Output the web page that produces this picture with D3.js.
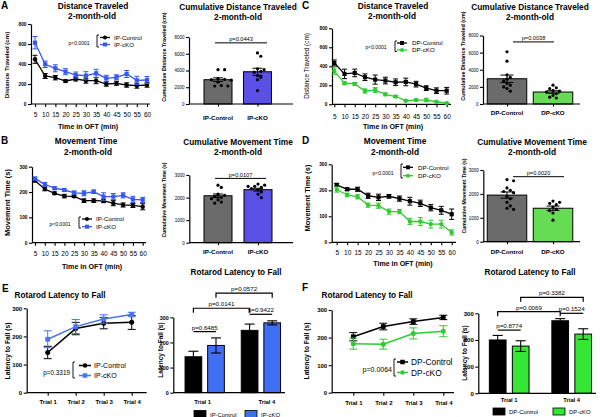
<!DOCTYPE html>
<html><head><meta charset="utf-8">
<script src="https://cdn.jsdelivr.net/npm/d3@7"></script>
<style>
body{margin:0;background:#fff;}
svg{display:block;}
</style></head><body>
<svg id="c" width="600" height="417"></svg>
<script>
// ---------------- DATA ----------------
const timePoints = [5,10,15,20,25,30,35,40,45,50,55,60];
const trials = ["Trial 1","Trial 2","Trial 3","Trial 4"];
const barTrials = ["Trial 1","Trial 4"];
const ipGroups = ["IP-Control","IP-cKO"];
const dpGroups = ["DP-Control","DP-cKO"];

// A – distance traveled per 5 min (IP)
const distIPControl    = [447,280,263,230,250,233,233,200,207,190,183,190];
const distIPControlErr = [40,25,22,12,20,25,30,22,20,22,25,22];
const distIPcKO        = [613,397,357,323,290,283,307,257,267,300,237,240];
const distIPcKOErr     = [62,32,35,30,30,40,40,30,25,35,40,35];
// C – distance traveled per 5 min (DP)
const distDPControl    = [435,320,330,285,260,250,232,235,212,170,143,143];
const distDPControlErr = [32,50,40,35,48,35,35,40,30,25,30,35];
const distDPcKO        = [350,222,215,140,150,105,82,38,45,45,27,12];
const distDPcKOErr     = [35,15,15,22,25,15,10,5,10,18,6,5];
// B – movement time (IP)
const moveIPControl    = [245,212,195,184,183,166,166,165,156,149,147,142];
const moveIPControlErr = [5,7,5,7,5,7,7,7,10,8,8,12];
const moveIPcKO        = [253,230,215,208,197,195,201,182,182,187,171,169];
const moveIPcKOErr     = [6,7,5,5,7,10,7,15,12,10,12,10];
// D – movement time (DP)
const moveDPControl    = [221,204,204,179,173,177,168,158,150,133,123,108];
const moveDPControlErr = [5,5,8,10,12,7,10,15,12,12,15,20];
const moveDPcKO        = [203,182,175,143,141,118,118,80,80,70,70,38];
const moveDPcKOErr     = [10,7,8,8,10,10,8,12,15,15,15,10];

// cumulative bars
const cumDistIPMean = [2900,3850];
const cumDistIPErr  = [220,420];
const cumDistIPControlPts = [4100,4100,3050,2950,2900,2850,2600,2200,2150,2150];
const cumDistIPcKOPts     = [6100,5700,4200,4100,3900,3800,3400,3200,2900,1600];
const cumDistDPMean = [2950,1400];
const cumDistDPErr  = [430,150];
const cumDistDPControlPts = [6100,5000,3400,3100,2900,2700,2400,2200,2000,1800,1500];
const cumDistDPcKOPts     = [2200,1900,1800,1600,1500,1400,1200,1000,800,700];
const cumMoveIPMean = [2080,2350];
const cumMoveIPErr  = [80,60];
const cumMoveIPControlPts = [2550,2450,2150,2100,2050,2000,1950,1900,1800,1750];
const cumMoveIPcKOPts     = [2600,2550,2500,2500,2450,2400,2350,2250,2150,2000];
const cumMoveDPMean = [1950,1400];
const cumMoveDPErr  = [130,90];
const cumMoveDPControlPts = [2600,2550,2250,2150,2100,2050,1900,1800,1650,1500,1400,1350];
const cumMoveDPcKOPts     = [1700,1650,1600,1550,1450,1350,1300,1200,900];

// rotarod lines
const rotIPControl    = [143,228,247,250];
const rotIPControlErr = [22,22,20,25];
const rotIPcKO        = [190,235,262,278];
const rotIPcKOErr     = [30,25,15,8];
const rotDPControl    = [203,240,258,273];
const rotDPControlErr = [15,12,10,8];
const rotDPcKO        = [178,176,215,223];
const rotDPcKOErr     = [20,18,20,20];
// rotarod bars (Trial 1, Trial 4)
const rotBarIPControl    = [143,248];
const rotBarIPControlErr = [22,25];
const rotBarIPcKO        = [188,278];
const rotBarIPcKOErr     = [30,8];
const rotBarDPControl    = [200,272];
const rotBarDPControlErr = [17,8];
const rotBarDPcKO        = [177,222];
const rotBarDPcKOErr     = [20,20];

// ---------------- DRAWING ----------------
const FONT = "'Liberation Sans', Arial, Helvetica, sans-serif";
const COL = {black:"#000", blue:"#3657f0", blueE:"#4775f0", green:"#2fcc2f",
             gray:"#6b6b6b", purple:"#5b50e6", lgreen:"#66dc55", fblue:"#3f6ff2", fgreen:"#35e635"};
const svg = d3.select("#c").attr("font-family", FONT);
const fmt = d3.format("d");

function label(x, y, s, o={}) {
  const t = svg.append("text").attr("x",x).attr("y",y).text(s)
    .attr("font-size",o.size||8).attr("font-weight",o.bold?"bold":"normal")
    .attr("text-anchor",o.anchor||"middle").attr("fill",o.fill||"#000");
  if (o.rotate) t.attr("transform",`rotate(-90,${x},${y})`).attr("dy","0.35em");
  return t;
}
function styleAxis(a, size, bold) {
  a.attr("font-family", FONT);
  a.selectAll("path.domain").attr("stroke","#000").attr("stroke-width",1.2);
  a.selectAll(".tick line").attr("stroke","#000").attr("stroke-width",1.1);
  a.selectAll(".tick text").attr("font-size",size).attr("font-weight",bold?"bold":"normal").attr("fill","#000");
}
function marker(g, shape, cx, cy, color, sz) {
  if (shape==="circle") g.append("circle").attr("cx",cx).attr("cy",cy).attr("r",sz/2).attr("fill",color);
  else g.append("rect").attr("x",cx-sz/2).attr("y",cy-sz/2).attr("width",sz).attr("height",sz).attr("fill",color);
}

function lineChart(c) {
  const g = svg.append("g");
  const y = d3.scaleLinear().domain(c.yDomain).range(c.yRange);
  const x = c.x;
  const ya = g.append("g").attr("transform",`translate(${c.ax},0)`)
    .call(d3.axisLeft(y).tickValues(c.yTicks).tickFormat(fmt).tickSize(3).tickSizeOuter(0).tickPadding(1.5));
  styleAxis(ya, c.yFont, true);
  const xa = g.append("g").attr("transform",`translate(0,${y(0)})`)
    .call(d3.axisBottom(x).tickValues(c.xTicks).tickSize(3).tickSizeOuter(0).tickPadding(c.xPad));
  xa.select(".domain").remove();
  styleAxis(xa, c.xFont, c.xBold);
  g.append("line").attr("x1",c.ax).attr("x2",c.xEnd).attr("y1",y(0)).attr("y2",y(0))
    .attr("stroke","#000").attr("stroke-width",1.2);
  c.series.forEach(s => {
    const pts = c.xTicks.map((t,i)=>({x:x(t), v:s.vals[i], e:s.errs[i]}));
    const eg = g.append("g").attr("stroke",s.color).attr("stroke-width",1);
    pts.forEach(p => {
      eg.append("line").attr("x1",p.x).attr("x2",p.x).attr("y1",y(p.v-p.e)).attr("y2",y(p.v+p.e));
      [p.v-p.e,p.v+p.e].forEach(v=>eg.append("line").attr("x1",p.x-c.cap/2).attr("x2",p.x+c.cap/2).attr("y1",y(v)).attr("y2",y(v)));
    });
    g.append("path").datum(pts).attr("d",d3.line().x(d=>d.x).y(d=>y(d.v)))
      .attr("fill","none").attr("stroke",s.color).attr("stroke-width",c.lw);
    pts.forEach(p => marker(g, s.shape, p.x, y(p.v), s.color, s.shape==="circle"?c.ms:c.ms*0.95));
  });
  const L = c.legend;
  g.append("path").attr("d",`M${L.bx+2},${L.y1}H${L.bx}V${L.y2}H${L.bx+2}`)
    .attr("fill","none").attr("stroke","#000").attr("stroke-width",0.9);
  c.series.forEach((s,i) => {
    g.append("line").attr("x1",L.lx1).attr("x2",L.lx2).attr("y1",L.ys[i]).attr("y2",L.ys[i])
      .attr("stroke",s.color).attr("stroke-width",c.lw);
    marker(g, s.shape, (L.lx1+L.lx2)/2, L.ys[i], s.color, c.ms*0.9);
    label(L.tx, L.ys[i]+L.font*0.36, L.labels[i], {size:L.font, anchor:"start"});
  });
  label(L.px, L.py+L.pfont*0.36, L.p, {size:L.pfont, anchor:L.panchor});
}

function swarm(vals, cx, y, r, step) {
  const placed = [];
  vals.map(v=>({v, py:y(v)})).sort((a,b)=>a.py-b.py).forEach(p => {
    for (let k=0;k<60;k++) {
      const off = (k%2===1?1:-1)*Math.ceil(k/2)*step;
      const px = cx+off;
      if (placed.every(q=>Math.hypot(q.px-px,q.py-p.py)>=2*r+0.5)) { p.px=px; placed.push(p); break; }
    }
  });
  return placed;
}

function dotBar(c) {
  const g = svg.append("g");
  const y = d3.scaleLinear().domain(c.yDomain).range(c.yRange);
  const x = d3.scalePoint().domain(c.cats).range(c.xCenters);
  c.cats.forEach((cat,i) => {
    const cx = x(cat);
    g.append("rect").attr("x",cx-c.barW/2).attr("y",y(c.means[i])).attr("width",c.barW)
      .attr("height",y(0)-y(c.means[i])).attr("fill",c.fills[i]).attr("stroke","#000").attr("stroke-width",1);
    const lo=c.means[i]-c.errs[i], hi=c.means[i]+c.errs[i];
    const eg = g.append("g").attr("stroke","#000").attr("stroke-width",1);
    eg.append("line").attr("x1",cx).attr("x2",cx).attr("y1",y(lo)).attr("y2",y(hi));
    [lo,hi].forEach(v=>eg.append("line").attr("x1",cx-c.cap/2).attr("x2",cx+c.cap/2).attr("y1",y(v)).attr("y2",y(v)));
    swarm(c.points[i], cx, y, 1.6, 3.3).forEach(p =>
      g.append("circle").attr("cx",p.px).attr("cy",p.py).attr("r",1.6).attr("fill","#000"));
  });
  const ya = g.append("g").attr("transform",`translate(${c.ax},0)`)
    .call(d3.axisLeft(y).tickValues(c.yTicks).tickFormat(fmt).tickSize(3).tickSizeOuter(0).tickPadding(1.5));
  styleAxis(ya, c.yFont, false);
  const xa = g.append("g").attr("transform",`translate(0,${y(0)})`)
    .call(d3.axisBottom(x).tickSize(2.5).tickSizeOuter(0).tickFormat(""));
  xa.select(".domain").remove();
  styleAxis(xa, 6, true);
  g.append("line").attr("x1",c.ax).attr("x2",c.xEnd).attr("y1",y(0)).attr("y2",y(0))
    .attr("stroke","#000").attr("stroke-width",1.2);
  c.cats.forEach(cat => label(x(cat), c.catY, cat, {size:6.2, bold:true}));
  const py = y(c.pLevel), x1 = x(c.cats[0])+c.pdx[0], x2 = x(c.cats[1])+c.pdx[1];
  g.append("line").attr("x1",x1).attr("x2",x2).attr("y1",py).attr("y2",py).attr("stroke","#000").attr("stroke-width",1);
  label((x1+x2)/2, py-1.5, c.p, {size:5.6});
}

function groupBar(c) {
  const g = svg.append("g");
  const y = d3.scaleLinear().domain(c.yDomain).range(c.yRange);
  const gx = d3.scalePoint().domain(c.groups).range(c.groupCenters);
  const cxOf = (si,gi) => gx(c.groups[gi]) + c.offsets[si];
  c.series.forEach((s,si) => c.groups.forEach((gn,gi) => {
    const cx = cxOf(si,gi), v=s.vals[gi], e=s.errs[gi];
    g.append("rect").attr("x",cx-c.barW/2).attr("y",y(v)).attr("width",c.barW).attr("height",y(0)-y(v))
      .attr("fill",s.fill).attr("stroke","#000").attr("stroke-width",1);
    const eg = g.append("g").attr("stroke","#000").attr("stroke-width",1.1);
    eg.append("line").attr("x1",cx).attr("x2",cx).attr("y1",y(v-e)).attr("y2",y(v+e));
    [v-e,v+e].forEach(w=>eg.append("line").attr("x1",cx-c.cap/2).attr("x2",cx+c.cap/2).attr("y1",y(w)).attr("y2",y(w)));
  }));
  const ya = g.append("g").attr("transform",`translate(${c.ax},0)`)
    .call(d3.axisLeft(y).tickValues(c.yTicks).tickFormat(fmt).tickSize(3).tickSizeOuter(0).tickPadding(1.5));
  styleAxis(ya, c.yFont, true);
  g.append("line").attr("x1",c.ax).attr("x2",c.xEnd).attr("y1",y(0)).attr("y2",y(0))
    .attr("stroke","#000").attr("stroke-width",1.2);
  c.groups.forEach((gn,gi) => label(gx(gn)+c.labelDx[gi], c.catY, gn, {size:5.8, bold:true}));
  c.brackets.forEach(b => {
    const x1 = cxOf(b.a[0],b.a[1]), x2 = cxOf(b.b[0],b.b[1]), by = y(b.level);
    const d = b.ends ? `M${x1},${by+4.5}V${by}H${x2}V${by+4.5}` : `M${x1},${by}H${x2}`;
    g.append("path").attr("d",d).attr("fill","none").attr("stroke","#000").attr("stroke-width",1.2);
    label((x1+x2)/2, by-2, b.text, {size:6.2});
  });
  c.series.forEach((s,si) => {
    g.append("rect").attr("x",c.legX[si]).attr("y",c.legY).attr("width",12).attr("height",7)
      .attr("fill",s.fill).attr("stroke","#000").attr("stroke-width",0.8);
    label(c.legX[si]+16, c.legY+6, s.name, {size:5.9, anchor:"start"});
  });
}

// ---------- Panel A ----------
label(1, 9, "A", {size:10, bold:true, anchor:"start"});
label(93, 9, "Distance Traveled", {size:8.3, bold:true});
label(92, 19, "2-month-old", {size:8.3, bold:true});
label(7, 65, "Distance Traveled (cm)", {size:6.1, bold:true, rotate:true});
label(88, 128.5, "Time in OFT (min)", {size:7.1, bold:true});
lineChart({yDomain:[0,800], yRange:[104,24], yTicks:[0,200,400,600,800], ax:31, xEnd:150,
  x:d3.scaleLinear().domain([5,60]).range([35,147]), xTicks:timePoints,
  yFont:4.8, xFont:6.5, xBold:false, xPad:5.7, cap:5, lw:1.3, ms:4.4,
  series:[{vals:distIPControl, errs:distIPControlErr, color:COL.black, shape:"circle"},
          {vals:distIPcKO, errs:distIPcKOErr, color:COL.blue, shape:"square"}],
  legend:{bx:97,y1:35,y2:47,lx1:100,lx2:110,tx:114,ys:[37.5,44.5],labels:ipGroups,font:6.2,
          p:"p<0.0001", px:79, py:42.7, pfont:5, panchor:"middle"}});

// ---------- Panel A bar ----------
label(238, 10.3, "Cumulative Distance Traveled", {size:8.3, bold:true});
label(238, 19.7, "2-month-old", {size:8.3, bold:true});
label(164, 57, "Cumulative Distance Traveled (cm)", {size:5.4, bold:true, rotate:true});
dotBar({yDomain:[0,8000], yRange:[104,37], yTicks:[0,2000,4000,6000,8000], ax:189, xEnd:293,
  cats:ipGroups, xCenters:[218,257.5], barW:28, cap:10, means:cumDistIPMean, errs:cumDistIPErr,
  points:[cumDistIPControlPts, cumDistIPcKOPts], fills:[COL.gray, COL.purple], yFont:4.5,
  catY:119.5, pLevel:7300, pdx:[-3,9.5], p:"p=0.0443"});

// ---------- Panel C ----------
label(302, 9, "C", {size:10, bold:true, anchor:"start"});
label(393, 9, "Distance Traveled", {size:8.3, bold:true});
label(392, 19, "2-month-old", {size:8.3, bold:true});
label(307, 66, "Distance Traveled (cm)", {size:6.4, rotate:true});
label(393, 129.3, "Time in OFT (min)", {size:7.1, bold:true});
lineChart({yDomain:[0,800], yRange:[104.3,28.3], yTicks:[0,200,400,600,800], ax:332, xEnd:451,
  x:d3.scaleLinear().domain([5,60]).range([334.3,446.7]), xTicks:timePoints,
  yFont:4.8, xFont:6.5, xBold:false, xPad:7.2, cap:5, lw:1.3, ms:4.4,
  series:[{vals:distDPControl, errs:distDPControlErr, color:COL.black, shape:"square"},
          {vals:distDPcKO, errs:distDPcKOErr, color:COL.green, shape:"circle"}],
  legend:{bx:395,y1:41,y2:51.5,lx1:397,lx2:407,tx:412,ys:[43,50],labels:dpGroups,font:6.2,
          p:"p<0.0001", px:376, py:47, pfont:5, panchor:"middle"}});

// ---------- Panel C bar ----------
label(530, 10.3, "Cumulative Distance Traveled", {size:8.3, bold:true});
label(530, 19.7, "2-month-old", {size:8.3, bold:true});
label(463, 56, "Cumulative Distance Traveled (cm)", {size:5.4, bold:true, rotate:true});
dotBar({yDomain:[0,8000], yRange:[104,35.5], yTicks:[0,2000,4000,6000,8000], ax:483, xEnd:580,
  cats:dpGroups, xCenters:[507,553], barW:39.5, cap:13, means:cumDistDPMean, errs:cumDistDPErr,
  points:[cumDistDPControlPts, cumDistDPcKOPts], fills:[COL.gray, COL.lgreen], yFont:4.5,
  catY:114.5, pLevel:7250, pdx:[6,1], p:"p=0.0038"});

// ---------- Panel B ----------
label(1, 144, "B", {size:10, bold:true, anchor:"start"});
label(86, 144, "Movement Time", {size:8.3, bold:true});
label(88, 154.5, "2-month-old", {size:8.3, bold:true});
label(7, 202.5, "Movement Time (s)", {size:7.4, bold:true, rotate:true});
label(92, 268.6, "Time in OFT (min)", {size:7.1, bold:true});
lineChart({yDomain:[0,300], yRange:[242.7,166.7], yTicks:[0,100,200,300], ax:32, xEnd:146,
  x:d3.scaleLinear().domain([5,60]).range([35,142.7]), xTicks:timePoints,
  yFont:4.8, xFont:6.5, xBold:false, xPad:6, cap:5, lw:1.3, ms:4.4,
  series:[{vals:moveIPControl, errs:moveIPControlErr, color:COL.black, shape:"circle"},
          {vals:moveIPcKO, errs:moveIPcKOErr, color:COL.blue, shape:"square"}],
  legend:{bx:79,y1:217,y2:228,lx1:82,lx2:92,tx:96,ys:[219,226.7],labels:ipGroups,font:6.2,
          p:"p<0.0001", px:60, py:224, pfont:5, panchor:"middle"}});

// ---------- Panel B bar ----------
label(238, 145.3, "Cumulative Movement Time", {size:8.3, bold:true});
label(238, 154.7, "2-month-old", {size:8.3, bold:true});
label(164, 200, "Cumulative Movement Time (s)", {size:5.1, bold:true, rotate:true});
dotBar({yDomain:[0,3000], yRange:[242.7,175], yTicks:[0,1000,2000,3000], ax:189.3, xEnd:293,
  cats:ipGroups, xCenters:[218,258], barW:28, cap:10, means:cumMoveIPMean, errs:cumMoveIPErr,
  points:[cumMoveIPControlPts, cumMoveIPcKOPts], fills:[COL.gray, COL.purple], yFont:4.5,
  catY:254.2, pLevel:2850, pdx:[-3,8], p:"p=0.0107"});

// ---------- Panel D ----------
label(302, 144, "D", {size:10, bold:true, anchor:"start"});
label(395, 144, "Movement Time", {size:8.3, bold:true});
label(395, 154.5, "2-month-old", {size:8.3, bold:true});
label(307, 198, "Movement Time (s)", {size:7.4, bold:true, rotate:true});
label(403, 266, "Time in OFT (min)", {size:7, bold:true});
lineChart({yDomain:[0,300], yRange:[242.3,164.3], yTicks:[0,100,200,300], ax:331.7, xEnd:456,
  x:d3.scaleLinear().domain([5,60]).range([336.7,451.7]), xTicks:timePoints,
  yFont:4.8, xFont:6.5, xBold:false, xPad:5.4, cap:5, lw:1.3, ms:4.4,
  series:[{vals:moveDPControl, errs:moveDPControlErr, color:COL.black, shape:"square"},
          {vals:moveDPcKO, errs:moveDPcKOErr, color:COL.green, shape:"circle"}],
  legend:{bx:401,y1:164,y2:178,lx1:403,lx2:413,tx:418,ys:[167.3,175.7],labels:dpGroups,font:6.2,
          p:"p<0.0001", px:383, py:172.7, pfont:5, panchor:"middle"}});

// ---------- Panel D bar ----------
label(532, 145.3, "Cumulative Movement Time", {size:8.3, bold:true});
label(532, 154.7, "2-month-old", {size:8.3, bold:true});
label(464, 196, "Cumulative Movement Time (s)", {size:5.1, bold:true, rotate:true});
dotBar({yDomain:[0,3000], yRange:[241.7,170], yTicks:[0,1000,2000,3000], ax:483.3, xEnd:580,
  cats:dpGroups, xCenters:[507,553], barW:39.5, cap:13, means:cumMoveDPMean, errs:cumMoveDPErr,
  points:[cumMoveDPControlPts, cumMoveDPcKOPts], fills:[COL.gray, COL.lgreen], yFont:4.5,
  catY:254.2, pLevel:2720, pdx:[6,11], p:"p=0.0020"});

// ---------- Panel E ----------
label(2, 292, "E", {size:10, bold:true, anchor:"start"});
label(60, 298, "Rotarod Latency to Fall", {size:8.2, bold:true});
label(7.5, 351, "Latency to Fall (s)", {size:6.7, bold:true, rotate:true});
lineChart({yDomain:[0,300], yRange:[392.7,308.3], yTicks:[0,100,200,300], ax:26.7, xEnd:146.7,
  x:d3.scalePoint().domain(trials).range([47.7,131.7]), xTicks:trials,
  yFont:6, xFont:6, xBold:true, xPad:4.2, cap:8, lw:1.5, ms:5,
  series:[{vals:rotIPControl, errs:rotIPControlErr, color:COL.black, shape:"circle"},
          {vals:rotIPcKO, errs:rotIPcKOErr, color:COL.blueE, shape:"square"}],
  legend:{bx:73,y1:362,y2:378,lx1:79,lx2:91,tx:94,ys:[365.5,375.5],labels:ipGroups,font:7.1,
          p:"p=0.3319", px:70, py:373, pfont:6.4, panchor:"end"}});

// ---------- Panel E bar ----------
label(236, 275, "Rotarod Latency to Fall", {size:8.2, bold:true});
label(161, 350, "Latency to Fall (s)", {size:6.5, bold:true, rotate:true});
groupBar({yDomain:[0,300], yRange:[392.7,317.3], yTicks:[0,100,200,300], ax:173.3, xEnd:285,
  groups:barTrials, groupCenters:[204.7,260.9], offsets:[-11.3,11.3], barW:16.7, cap:10, yFont:5.4,
  series:[{name:"IP-Control", vals:rotBarIPControl, errs:rotBarIPControlErr, fill:"#000"},
          {name:"IP-cKO", vals:rotBarIPcKO, errs:rotBarIPcKOErr, fill:COL.fblue}],
  labelDx:[-2,6], catY:403.5, legX:[194,245], legY:410.5,
  brackets:[{text:"p=0.6485", a:[0,0], b:[1,0], level:243},
            {text:"p=0.9422", a:[0,1], b:[1,1], level:312},
            {text:"p=0.0141", a:[0,0], b:[0,1], level:336, ends:true},
            {text:"p=0.0572", a:[1,0], b:[1,1], level:396, ends:true}]});

// ---------- Panel F ----------
label(302, 291, "F", {size:10, bold:true, anchor:"start"});
label(367, 298, "Rotarod Latency to Fall", {size:8.2, bold:true});
label(307, 351, "Latency to Fall (s)", {size:6.7, bold:true, rotate:true});
lineChart({yDomain:[0,300], yRange:[392.7,310], yTicks:[0,100,200,300], ax:331.7, xEnd:454,
  x:d3.scalePoint().domain(trials).range([353.3,443.3]), xTicks:trials,
  yFont:6, xFont:6, xBold:true, xPad:5.2, cap:8, lw:1.5, ms:5,
  series:[{vals:rotDPControl, errs:rotDPControlErr, color:COL.black, shape:"square"},
          {vals:rotDPcKO, errs:rotDPcKOErr, color:COL.green, shape:"circle"}],
  legend:{bx:394,y1:359,y2:376,lx1:397,lx2:408,tx:411,ys:[362,372.5],labels:dpGroups,font:8.4,
          p:"p=0.0064", px:392, py:369, pfont:7, panchor:"end"}});

// ---------- Panel F bar ----------
label(530, 275, "Rotarod Latency to Fall", {size:8.2, bold:true});
label(465, 353, "Latency to Fall (s)", {size:6.5, bold:true, rotate:true});
groupBar({yDomain:[0,300], yRange:[393.3,313.3], yTicks:[0,100,200,300], ax:478.3, xEnd:596,
  groups:barTrials, groupCenters:[509.2,571.7], offsets:[-11.5,11.5], barW:16.7, cap:10, yFont:6,
  series:[{name:"DP-Control", vals:rotBarDPControl, errs:rotBarDPControlErr, fill:"#000"},
          {name:"DP-cKO", vals:rotBarDPcKO, errs:rotBarDPcKOErr, fill:COL.fgreen}],
  labelDx:[0,0], catY:402, legX:[493,553], legY:408,
  brackets:[{text:"p=0.8774", a:[0,0], b:[1,0], level:237},
            {text:"p=0.1524", a:[0,1], b:[1,1], level:300},
            {text:"p=0.0069", a:[0,0], b:[0,1], level:306, ends:true},
            {text:"p=0.3382", a:[1,0], b:[1,1], level:360, ends:true}]});
</script>
</body></html>
